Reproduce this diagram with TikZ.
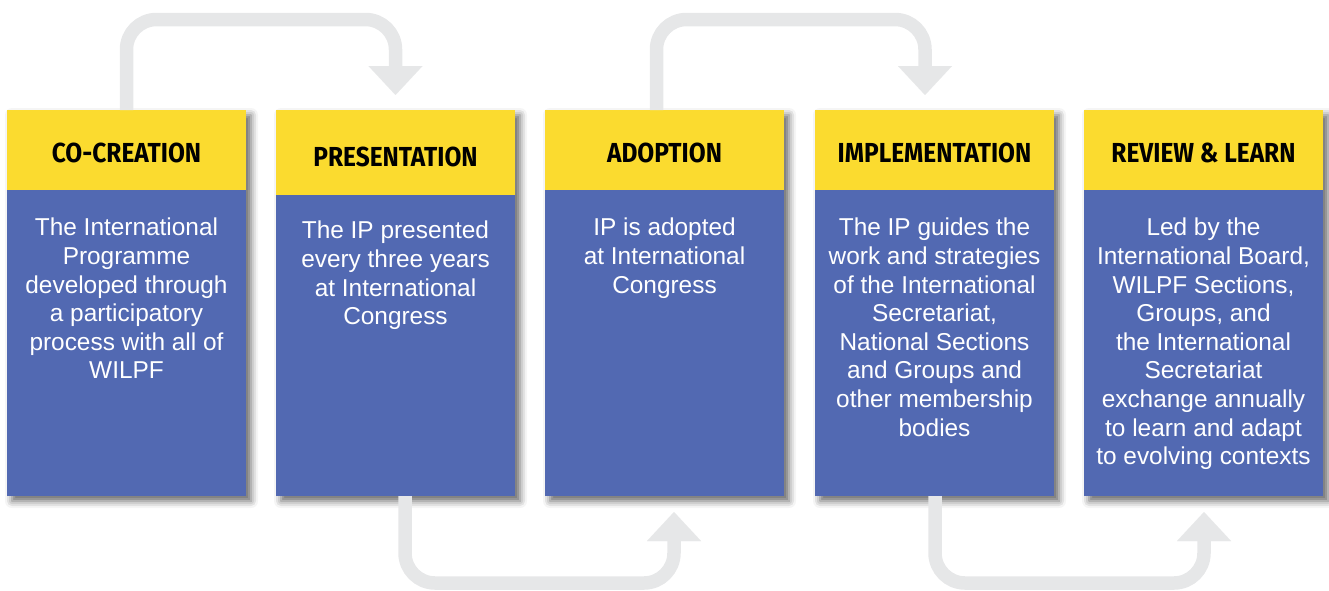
\documentclass[tikz,border=0pt]{standalone}
\usepackage{fontspec}
\setmainfont{Liberation Sans}
\newfontfamily\headfont[FakeStretch=0.89]{Fira Sans}
\usetikzlibrary{arrows.meta,shadows.blur}
\definecolor{cardblue}{RGB}{82,105,178}
\definecolor{cardyellow}{RGB}{251,219,47}
\definecolor{arrowgray}{RGB}{230,231,232}
\tikzset{
  card/.style={fill=cardblue, draw=none, minimum width=239pt, minimum height=386pt,
    inner sep=0pt, outer sep=0pt, anchor=north west,
    blur shadow={shadow xshift=5pt, shadow yshift=-5pt, shadow blur radius=7pt, shadow opacity=60}},
  header/.style={fill=cardyellow, draw=none, minimum width=239pt, inner sep=0pt, outer sep=0pt, anchor=north west},
  headtext/.style={anchor=base, inner sep=0pt, font=\headfont\bfseries\fontsize{27.5}{30}\selectfont, text=black},
  bodytext/.style={anchor=north, inner sep=0pt, align=center, text=white, font=\fontsize{24.4}{28.6}\selectfont},
  flow/.style={draw=arrowgray, line width=13.5pt, rounded corners=30pt,
    -{Triangle[width=54pt,length=29pt,line width=0.01pt]}}
}
\begin{document}
\begin{tikzpicture}[x=1pt,y=-1pt]
\useasboundingbox (0,0) rectangle (1329,590);
% cards
\node[card] (b1) at (7,110) {};
\node[card] (b2) at (276,110) {};
\node[card] (b3) at (545,110) {};
\node[card] (b4) at (815,110) {};
\node[card] (b5) at (1084,110) {};
% headers
\node[header, minimum height=80pt] (h1) at (7,110) {};
\node[header, minimum height=85pt] (h2) at (276,110) {};
\node[header, minimum height=80pt] (h3) at (545,110) {};
\node[header, minimum height=80pt] (h4) at (815,110) {};
\node[header, minimum height=80pt] (h5) at (1084,110) {};
\node[headtext] (l1) at (126.5,162) {CO-CREATION};
\node[headtext] (l2) at (395.5,166) {PRESENTATION};
\node[headtext] (l3) at (664.5,162) {ADOPTION};
\node[headtext] (l4) at (934.5,162) {IMPLEMENTATION};
\node[headtext] (l5) at (1203.5,162) {REVIEW \& LEARN};
% body texts
\node[bodytext] (t1) at (126.5,218) {The International\\Programme\\developed through\\a participatory\\process with all of\\WILPF};
\node[bodytext] (t2) at (395.5,221) {The IP presented\\every three years\\at International\\Congress};
\node[bodytext] (t3) at (664.5,218) {IP is adopted\\at International\\Congress};
\node[bodytext] (t4) at (934.5,218) {The IP guides the\\work and strategies\\of the International\\Secretariat,\\National Sections\\and Groups and\\other membership\\bodies};
\node[bodytext] (t5) at (1203.5,218) {Led by the\\International Board,\\WILPF Sections,\\Groups, and\\the International\\Secretariat\\exchange annually\\to learn and adapt\\to evolving contexts};
% connectors
\coordinate (ytop) at (0,19.5);
\coordinate (ybot) at (0,583);
\coordinate (a1s) at (b1.north);
\coordinate (a1e) at ([yshift=15pt]b2.north);
\coordinate (a2s) at ([xshift=-8pt]b3.north);
\coordinate (a2e) at ([xshift=-9.5pt,yshift=15pt]b4.north);
\coordinate (a3s) at ([xshift=9.5pt]b2.south);
\coordinate (a3e) at ([xshift=9.5pt,yshift=-16pt]b3.south);
\coordinate (a4s) at ([xshift=0.5pt]b4.south);
\coordinate (a4e) at ([xshift=0.5pt,yshift=-16pt]b5.south);
\draw[flow] (a1s) -- (a1s |- ytop) -- (a1e |- ytop) -- (a1e);
\draw[flow] (a2s) -- (a2s |- ytop) -- (a2e |- ytop) -- (a2e);
\draw[flow] (a3s) -- (a3s |- ybot) -- (a3e |- ybot) -- (a3e);
\draw[flow] (a4s) -- (a4s |- ybot) -- (a4e |- ybot) -- (a4e);
\end{tikzpicture}
\end{document}
